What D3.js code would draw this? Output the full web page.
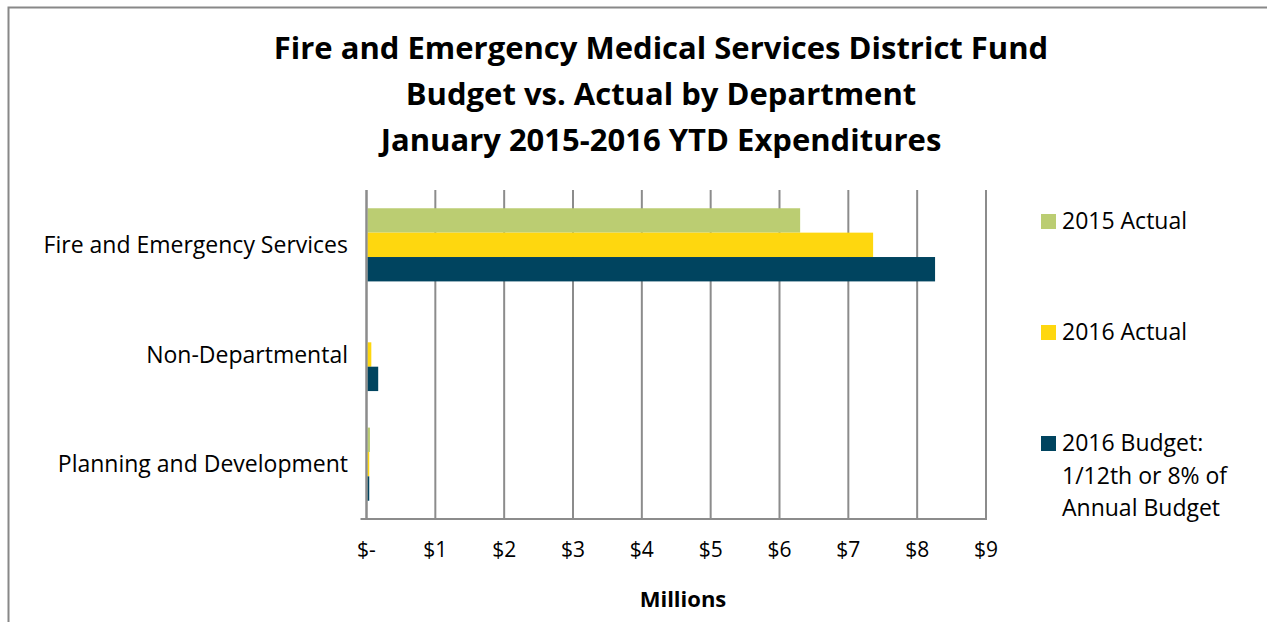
<!DOCTYPE html>
<html>
<head>
<meta charset="utf-8">
<script src="https://cdn.jsdelivr.net/npm/d3@7"></script>
<style>
  body { margin: 0; background: #fff; }
  text { font-family: "Open Sans", "Noto Sans", sans-serif; fill: #000; }
</style>
</head>
<body>
<div id="chart"></div>
<script>
// data, in millions of dollars
var departments = ["Fire and Emergency Services", "Non-Departmental", "Planning and Development"];
var seriesNames = ["2015 Actual", "2016 Actual", "2016 Budget: 1/12th or 8% of Annual Budget"];
var actual2015 = [6.30, 0.00, 0.05];
var actual2016 = [7.36, 0.07, 0.04];
var budget2016 = [8.26, 0.17, 0.04];
var tickValues = [0, 1, 2, 3, 4, 5, 6, 7, 8, 9];
var titleLines = ["Fire and Emergency Medical Services District Fund",
                  "Budget vs. Actual by Department",
                  "January 2015-2016 YTD Expenditures"];

var colors = ["#bbcd72", "#fed70f", "#00445f"];
var seriesValues = [actual2015, actual2016, budget2016];

var width = 1267, height = 622;
var plot = {left: 366.5, right: 986, top: 190, bottom: 519};

var svg = d3.select("#chart").append("svg")
    .attr("width", width)
    .attr("height", height);

// outer frame
svg.append("rect")
    .attr("x", 8.5).attr("y", 7.5)
    .attr("width", 1300).attr("height", 700)
    .attr("fill", "none")
    .attr("stroke", "#888")
    .attr("stroke-width", 2);

// title
svg.append("g").selectAll("text")
    .data(titleLines)
  .enter().append("text")
    .attr("x", 661)
    .attr("y", function(d, i) { return 59 + i * 46; })
    .attr("text-anchor", "middle")
    .style("font-size", "31px")
    .style("font-weight", "bold")
    .text(function(d) { return d; });

var x = d3.scaleLinear()
    .domain([0, 9])
    .range([plot.left, plot.right]);

var y = d3.scaleBand()
    .domain(departments)
    .range([plot.top, plot.bottom])
    .paddingInner(0.333)
    .paddingOuter(0.1665);

var ySub = d3.scaleBand()
    .domain(d3.range(seriesNames.length))
    .range([0, y.bandwidth()]);

// gridlines
svg.append("g").selectAll("line")
    .data(tickValues)
  .enter().append("line")
    .attr("x1", function(d) { return x(d); })
    .attr("x2", function(d) { return x(d); })
    .attr("y1", plot.top)
    .attr("y2", plot.bottom)
    .attr("stroke", "#8c8c8c")
    .attr("stroke-width", 2);

// bars
var rows = [];
departments.forEach(function(dep, i) {
  seriesValues.forEach(function(vals, s) {
    rows.push({dep: dep, s: s, value: vals[i]});
  });
});

svg.append("g").selectAll("rect")
    .data(rows)
  .enter().append("rect")
    .attr("x", x(0) + 1)
    .attr("y", function(d) { return y(d.dep) + ySub(d.s); })
    .attr("width", function(d) { return Math.max(0, x(d.value) - x(0) - 1); })
    .attr("height", ySub.bandwidth())
    .attr("fill", function(d) { return colors[d.s]; });

// bottom axis line
svg.append("line")
    .attr("x1", plot.left - 6).attr("x2", plot.right + 1)
    .attr("y1", plot.bottom).attr("y2", plot.bottom)
    .attr("stroke", "#8c8c8c")
    .attr("stroke-width", 2);

// left axis line
svg.append("line")
    .attr("x1", x(0)).attr("x2", x(0))
    .attr("y1", plot.top).attr("y2", plot.bottom)
    .attr("stroke", "#8c8c8c")
    .attr("stroke-width", 2);

// x tick labels
svg.append("g").selectAll("text")
    .data(tickValues)
  .enter().append("text")
    .attr("x", function(d) { return x(d); })
    .attr("y", 557)
    .attr("text-anchor", "middle")
    .style("font-size", "21px")
    .text(function(d) { return d === 0 ? "$-" : "$" + d; });

// axis title
svg.append("text")
    .attr("x", 683)
    .attr("y", 607)
    .attr("text-anchor", "middle")
    .style("font-size", "22px")
    .style("font-weight", "bold")
    .text("Millions");

// category labels
svg.append("g").selectAll("text")
    .data(departments)
  .enter().append("text")
    .attr("x", 348)
    .attr("y", function(d) { return y(d) + y.bandwidth() / 2; })
    .attr("dy", ".35em")
    .attr("text-anchor", "end")
    .style("font-size", "23px")
    .text(function(d) { return d; });

// legend
var legendLines = [["2015 Actual"], ["2016 Actual"], ["2016 Budget:", "1/12th or 8% of", "Annual Budget"]];
var legend = svg.append("g").selectAll("g")
    .data(seriesNames)
  .enter().append("g")
    .attr("transform", function(d, i) { return "translate(1041," + (221 + i * 111) + ")"; });

legend.append("rect")
    .attr("y", -7)
    .attr("width", 15).attr("height", 15)
    .attr("fill", function(d, i) { return colors[i]; });

legend.append("text")
    .style("font-size", "23px")
    .selectAll("tspan")
    .data(function(d, i) { return legendLines[i]; })
  .enter().append("tspan")
    .attr("x", 21)
    .attr("y", function(d, j) { return j * 32.5; })
    .attr("dy", ".35em")
    .text(function(d) { return d; });
</script>
</body>
</html>
